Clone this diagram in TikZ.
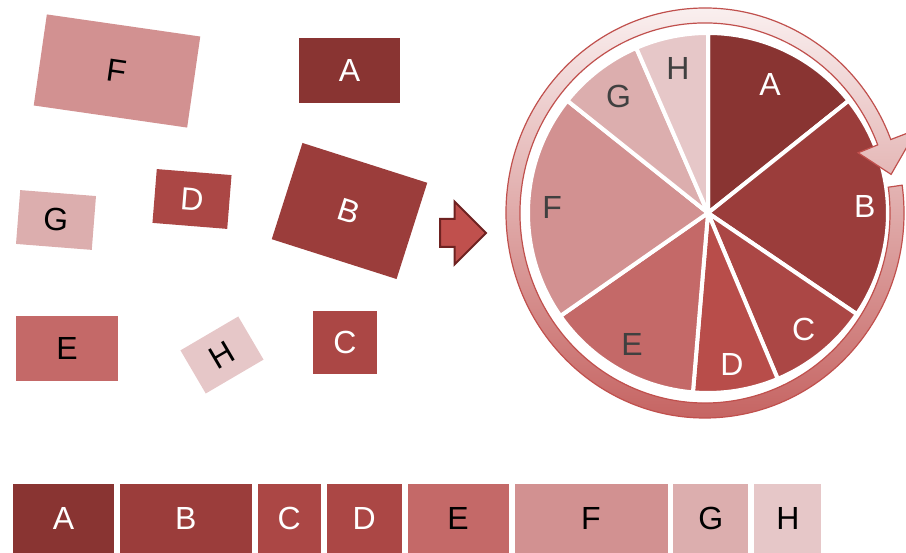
\documentclass[tikz,border=0pt]{standalone}
\usepackage{fontspec}
\setmainfont{Liberation Sans}
\usetikzlibrary{positioning,shapes.arrows}

% eight shades, darkest first
\definecolor{toneA}{HTML}{893432}
\definecolor{toneB}{HTML}{9B3D3B}
\definecolor{toneC}{HTML}{AB4745}
\definecolor{toneD}{HTML}{B84D4A}
\definecolor{toneE}{HTML}{C46968}
\definecolor{toneF}{HTML}{D29191}
\definecolor{toneG}{HTML}{DCAEAE}
\definecolor{toneH}{HTML}{E6C7C8}
\definecolor{rim}{HTML}{C0504D}
\definecolor{rimtop}{HTML}{FBF3F3}
\definecolor{rimbottom}{HTML}{C4605E}
\definecolor{pushline}{HTML}{6E2221}
\definecolor{pieink}{HTML}{404040}

\tikzset {
    style tile/.style={
        rectangle, % Set the shape as a rectangle
        inner sep=0pt,
        transform shape,
        font=\fontsize{32}{36}\selectfont,
    },
    style bar/.style={
        rectangle, % Set the shape as a rectangle
        inner sep=0pt,
        minimum height=69pt,
        font=\fontsize{32}{36}\selectfont,
    },
    style slice/.style={
        draw=white,
        line width=4pt,
        line join=round,
    },
    style label/.style={
        font=\fontsize{32}{36}\selectfont,
        inner sep=0pt,
    },
    style ring/.style={
        top color=rimtop,
        bottom color=rimbottom,
        draw=rim,
        line width=1.2pt,
    },
    style push/.style={
        single arrow,
        single arrow head extend=17.5pt,
        single arrow head indent=0pt,
        fill=rim,
        draw=pushline,
        line width=2pt,
        inner xsep=0pt,
        inner ysep=13pt,
    },
}

\begin{document}
\begin{tikzpicture}[x=1pt, y=1pt]
    \useasboundingbox (0,0) rectangle (906,553);
    \clip (0,0) rectangle (906,553);

    % loose tiles
    \node[style tile, fill=toneF, minimum width=155pt, minimum height=92pt, rotate=-8.2] (tf) at (117,482) {F};
    \node[style tile, fill=toneA, minimum width=101pt, minimum height=65pt, text=white] (ta) at (349.5,482) {A};
    \node[style tile, fill=toneB, minimum width=131pt, minimum height=101pt, rotate=-17.7, text=white] (tb) at (349.5,342) {B};
    \node[style tile, fill=toneC, minimum width=75pt, minimum height=54pt, rotate=-4.6, text=white] (td) at (192,354) {D};
    \node[style tile, fill=toneG, minimum width=76pt, minimum height=54pt, rotate=-4.5] (tg) at (56,333) {G};
    \node[style tile, fill=toneE, minimum width=102pt, minimum height=65pt] (te) at (67,204.5) {E};
    \node[style tile, fill=toneH, minimum width=67pt, minimum height=50pt, rotate=30.4] (th) at (222,198) {H};
    \node[style tile, fill=toneC, minimum width=64pt, minimum height=63pt, text=white] (tc) at (345,210.5) {C};

    \node[style push, minimum height=46pt] (go) at (456,320) {};

    % the pie
    \coordinate (pie) at (708,340);
    \foreach \name/\from/\to/\r/\tone/\ink in {A/38.6/90/143/toneA/white, B/-34.2/38.6/157/toneB/white,
        C/-67.2/-34.2/151/toneC/white, D/-94.8/-67.2/153/toneD/white, E/-145.1/-94.8/152/toneE/pieink,
        F/-218.6/-145.1/156/toneF/pieink, G/113.5/141.4/147/toneG/pieink, H/90/113.5/148/toneH/pieink}
    {
        \filldraw[style slice, fill=\tone] (pie) -- ++(\from:180) arc[start angle=\from, end angle=\to, radius=180] -- cycle;
        \path (pie) ++({(\from+\to)/2}:\r) node[style label, text=\ink] (p\name) {\name};
    }

    % turning arrow round the pie
    \coordinate (ring) at (705,340);
    \path[style ring] (ring) ++(7.8:199 and 205)
        arc[start angle=7.8, end angle=-339, x radius=199, y radius=205]
        -- ([shift={(-339:227 and 233)}]ring)
        -- ([shift={(-348.4:190 and 192)}]ring)
        -- ([shift={(-339:164 and 168)}]ring)
        -- ([shift={(-339:185 and 190)}]ring)
        arc[start angle=-339, end angle=7.8, x radius=185, y radius=190] -- cycle;

    % the same shares side by side
    \node[style bar, fill=toneA, minimum width=101pt, text=white] (ba) at (63.5,34.5) {A};
    \node[style bar, fill=toneB, minimum width=132pt, text=white, right=5.5pt of ba] (bb) {B};
    \node[style bar, fill=toneC, minimum width=63pt, text=white, right=5.5pt of bb] (bc) {C};
    \node[style bar, fill=toneC, minimum width=75pt, text=white, right=5.5pt of bc] (bd) {D};
    \node[style bar, fill=toneE, minimum width=101pt, right=5.5pt of bd] (be) {E};
    \node[style bar, fill=toneF, minimum width=153pt, right=5.5pt of be] (bf) {F};
    \node[style bar, fill=toneG, minimum width=75pt, right=5.5pt of bf] (bg) {G};
    \node[style bar, fill=toneH, minimum width=67pt, right=5.5pt of bg] (bh) {H};

\end{tikzpicture}
\end{document}
